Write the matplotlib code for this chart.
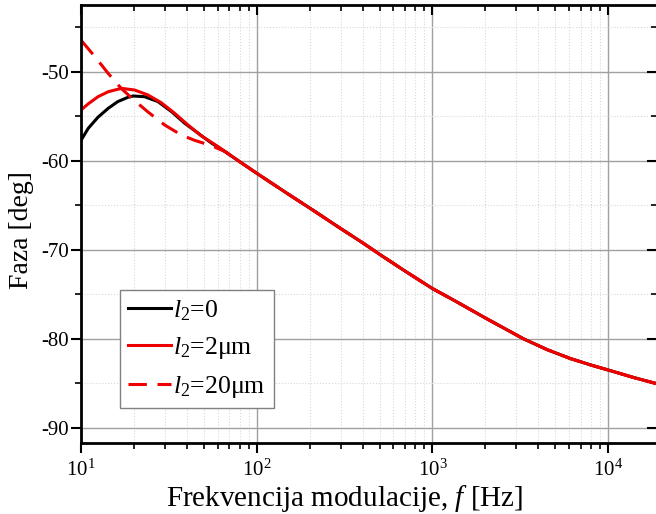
import matplotlib
matplotlib.use('Agg')
import matplotlib.pyplot as plt
import numpy as np
from matplotlib.ticker import LogLocator, MultipleLocator, NullFormatter

plt.rcParams['font.family'] = ['Liberation Serif', 'DejaVu Serif']
plt.rcParams['mathtext.fontset'] = 'custom'
plt.rcParams['mathtext.rm'] = 'Liberation Serif'
plt.rcParams['mathtext.it'] = 'Liberation Serif:italic'
plt.rcParams['axes.unicode_minus'] = False

# ── Data ──────────────────────────────────────────────────────────────────
# shared high-frequency tail, all three curves coincide here
f_tail = [80, 100, 150, 200, 300, 400, 500, 700, 1000, 1320, 2040, 3300,
          4480, 6070, 8000, 10000, 14000, 19000]
ph_tail = [-60.1, -61.4, -63.7, -65.3, -67.6, -69.2, -70.5, -72.4, -74.35,
           -75.65, -77.75, -80.0, -81.2, -82.2, -82.95, -83.5, -84.35, -85.05]

f_l0 = [10, 11, 12.5, 14.3, 16.2, 18.5, 19.8, 23, 27.4, 32.7, 38.9, 46.4,
        55.2, 65.8]
ph_l0 = [-57.7, -56.35, -55.1, -54.1, -53.35, -52.87, -52.72, -52.8, -53.35,
         -54.47, -55.78, -56.9, -58.0, -58.95]

f_l2 = [10, 11, 12.5, 14.3, 17, 20.2, 24, 28.6, 34.1, 40.6, 48.4, 60.2]
ph_l2 = [-54.3, -53.6, -52.8, -52.24, -51.86, -52.05, -52.6, -53.47, -54.66,
         -55.97, -57.2, -58.4]

f_l20 = [10, 12, 14.3, 17, 20.2, 24, 29.9, 37.2, 44.3, 55.2, 65.8]
ph_l20 = [-46.45, -48.3, -50.2, -51.9, -53.25, -54.5, -55.97, -57.1, -57.7,
          -58.3, -58.95]

labels = [r'$\mathit{l}_2$=0', r'$\mathit{l}_2$=2μm', r'$\mathit{l}_2$=20μm']

# ── Plot ──────────────────────────────────────────────────────────────────
fig = plt.figure(figsize=(6.56, 5.14), dpi=100)
ax = fig.add_axes([81 / 656, 71 / 514, 576 / 656, 438 / 514])

ax.plot(f_l0 + f_tail, ph_l0 + ph_tail, color='black', lw=2.2, label=labels[0])
ax.plot(f_l2 + f_tail, ph_l2 + ph_tail, color='#ee0000', lw=2.2, label=labels[1])
ax.plot(f_l20 + f_tail, ph_l20 + ph_tail, color='#ee0000', lw=2.2,
        dashes=(6, 3.5), label=labels[2])

ax.set_xscale('log')
ax.set_xlim(10, 10 ** 4.278)
ax.set_ylim(-91.7, -42.5)

ax.xaxis.set_major_locator(LogLocator(base=10))
ax.xaxis.set_minor_locator(LogLocator(base=10, subs=np.arange(2, 10)))
ax.xaxis.set_minor_formatter(NullFormatter())
ax.yaxis.set_major_locator(MultipleLocator(10))
ax.yaxis.set_minor_locator(MultipleLocator(5))

ax.grid(which='major', color='#a0a0a0', lw=1.0, ls='-')
ax.grid(which='minor', color='#d8d8d8', lw=0.8, ls=':')
ax.set_axisbelow(True)

for s in ax.spines.values():
    s.set_linewidth(2)
ax.spines['right'].set_visible(False)

ax.tick_params(axis='both', which='major', width=1.5, length=7,
               direction='out', color='black')
ax.tick_params(axis='both', which='minor', width=1.2, length=4,
               direction='out')
ax.tick_params(axis='y', which='major', labelsize=15, pad=2)
ax.tick_params(axis='x', which='major', labelsize=15, pad=5)
ax.tick_params(top=True, right=True, which='both')
# mirrored ticks point inwards on top and right
for t in ax.xaxis.get_major_ticks() + ax.xaxis.get_minor_ticks():
    t.tick2line.set_marker(3)
for t in ax.yaxis.get_major_ticks() + ax.yaxis.get_minor_ticks():
    t.tick2line.set_marker(0)

ax.set_xlabel(r'Frekvencija modulacije, $\mathit{f}$ [Hz]', fontsize=21)
ax.xaxis.set_label_coords(0.457, -0.092)
ax.set_ylabel('Faza [deg]', fontsize=20)
ax.yaxis.set_label_coords(-0.082, 0.486)

leg = ax.legend(loc='lower left', bbox_to_anchor=(0.068, 0.08), fontsize=18.5,
                frameon=True, fancybox=False, edgecolor='#808080',
                framealpha=1, handlelength=1.67, handletextpad=0.1,
                borderpad=0.3, labelspacing=0.5, borderaxespad=0)
leg.get_frame().set_linewidth(1.0)

fig.savefig('out.png', dpi=100)
